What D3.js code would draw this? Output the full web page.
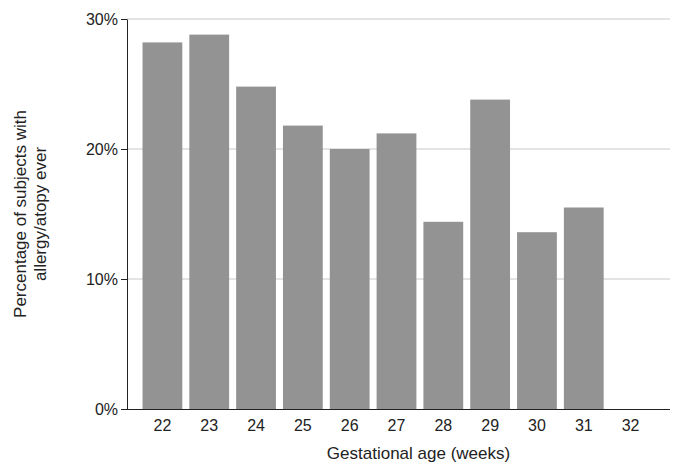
<!DOCTYPE html>
<html>
<head>
<meta charset="utf-8">
<script src="https://cdn.jsdelivr.net/npm/d3@7"></script>
<style>
  body { margin: 0; background: #fff; }
  text { font-family: "Liberation Sans", Arial, sans-serif; fill: #222; }
</style>
</head>
<body>
<svg id="chart" width="685" height="469"></svg>
<script>
// Gestational age (weeks) and % with allergy/atopy ever
const weeks = ["22", "23", "24", "25", "26", "27", "28", "29", "30", "31", "32"];
const percents = [28.2, 28.8, 24.8, 21.8, 20.0, 21.2, 14.4, 23.8, 13.6, 15.5, 0];
const yTicks = [0, 10, 20, 30];

const svg = d3.select('#chart');
const plotLeft = 127, plotRight = 670, plotTop = 19, plotBottom = 409;

const x = d3.scaleBand().domain(weeks).range([139, 654]).paddingInner(0.15).paddingOuter(0.075);
const y = d3.scaleLinear().domain([0, 30]).range([plotBottom, plotTop]);

// gridlines
svg.append('g').selectAll('line')
    .data(yTicks.filter(d => d > 0))
    .join('line')
    .attr('x1', plotLeft).attr('x2', plotRight)
    .attr('y1', d => y(d)).attr('y2', d => y(d))
    .attr('stroke', '#c8c8c8').attr('stroke-width', 1);

svg.append('g').selectAll('rect')
    .data(weeks.map((w, i) => ({ w, v: percents[i] })))
    .join('rect')
    .attr('x', d => x(d.w))
    .attr('width', x.bandwidth())
    .attr('y', d => y(d.v))
    .attr('height', d => plotBottom - y(d.v))
    .attr('fill', '#939393');

const yAxis = svg.append('g')
    .attr('transform', `translate(${plotLeft},0)`)
    .call(d3.axisLeft(y).tickValues(yTicks).tickFormat(d => d + '%').tickSize(6).tickSizeOuter(0));
yAxis.selectAll('text').attr('font-size', 16);

const xAxis = svg.append('g')
    .attr('transform', `translate(0,${plotBottom})`)
    .call(d3.axisBottom(x).tickSize(0));
xAxis.select('.domain').attr('d', `M${plotLeft},0.5H${plotRight}`);
xAxis.selectAll('text').attr('font-size', 16).attr('dy', '1.2em');

svg.selectAll('.domain, .tick line').attr('stroke', '#222');

svg.append('text')
    .attr('x', (plotLeft + plotRight) / 2 + 20).attr('y', 459)
    .attr('text-anchor', 'middle').attr('font-size', 17)
    .text('Gestational age (weeks)');

const yl = svg.append('text')
    .attr('transform', 'translate(36,214) rotate(-90)')
    .attr('text-anchor', 'middle').attr('font-size', 17);
yl.append('tspan').attr('x', 0).attr('dy', '-0.6em').text('Percentage of subjects with');
yl.append('tspan').attr('x', 0).attr('dy', '1.2em').text('allergy/atopy ever');
</script>
</body>
</html>
